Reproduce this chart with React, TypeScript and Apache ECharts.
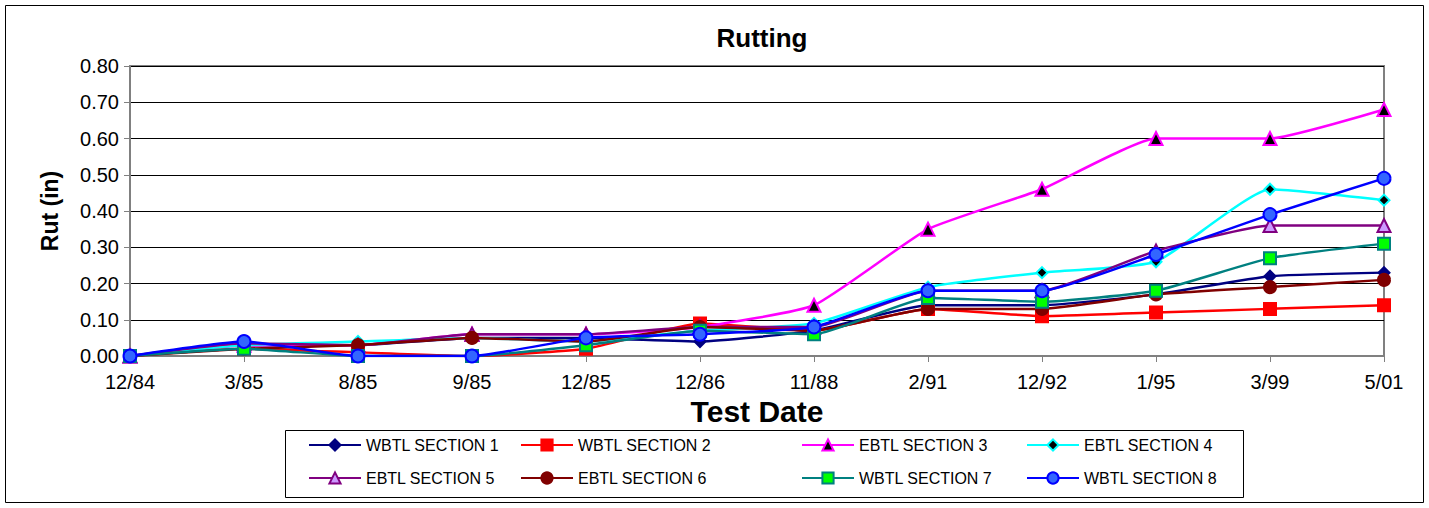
import React, { useEffect, useRef } from "react";
import * as echarts from "echarts";

const categories = ["12/84", "3/85", "8/85", "9/85", "12/85", "12/86", "11/88", "2/91", "12/92", "1/95", "3/99", "5/01"];
const yTicks = [0, 0.1, 0.2, 0.3, 0.4, 0.5, 0.6, 0.7, 0.8];

const wbtl1 = [0, 0.03, 0.03, 0.05, 0.05, 0.04, 0.07, 0.14, 0.14, 0.17, 0.22, 0.23];
const wbtl2 = [0, 0.02, 0.01, 0, 0.02, 0.09, 0.07, 0.13, 0.11, 0.12, 0.13, 0.14];
const ebtl3 = [0, 0.03, 0.03, 0.06, 0.06, 0.08, 0.14, 0.35, 0.46, 0.6, 0.6, 0.68];
const ebtl4 = [0, 0.03, 0.04, 0.05, 0.04, 0.07, 0.09, 0.19, 0.23, 0.26, 0.46, 0.43];
const ebtl5 = [0, 0.035, 0.03, 0.06, 0.06, 0.08, 0.08, 0.18, 0.18, 0.29, 0.36, 0.36];
const ebtl6 = [0, 0.02, 0.03, 0.05, 0.04, 0.08, 0.07, 0.13, 0.13, 0.17, 0.19, 0.21];
const wbtl7 = [0, 0.02, 0, 0, 0.03, 0.07, 0.06, 0.16, 0.15, 0.18, 0.27, 0.31];
const wbtl8 = [0, 0.04, 0, 0, 0.05, 0.06, 0.08, 0.18, 0.18, 0.28, 0.39, 0.49];

const seriesNames = [
  "WBTL SECTION 1", "WBTL SECTION 2", "EBTL SECTION 3", "EBTL SECTION 4",
  "EBTL SECTION 5", "EBTL SECTION 6", "WBTL SECTION 7", "WBTL SECTION 8",
];
const seriesData = [wbtl1, wbtl2, ebtl3, ebtl4, ebtl5, ebtl6, wbtl7, wbtl8];

const styles = [
  { line: "#000080", symbol: "diamond", fill: "#000080", border: "#000080", size: 11 },
  { line: "#FF0000", symbol: "rect", fill: "#FF0000", border: "#FF0000", size: 12 },
  { line: "#FF00FF", symbol: "triangle", fill: "#000000", border: "#FF00FF", size: 13 },
  { line: "#00FFFF", symbol: "diamond", fill: "#000000", border: "#00FFFF", size: 11 },
  { line: "#800080", symbol: "triangle", fill: "#CC99FF", border: "#800080", size: 13 },
  { line: "#800000", symbol: "circle", fill: "#800000", border: "#800000", size: 12 },
  { line: "#008080", symbol: "rect", fill: "#00FF00", border: "#008080", size: 12 },
  { line: "#0000FF", symbol: "circle", fill: "#3366FF", border: "#0000FF", size: 13 },
];

const FONT = "'Liberation Sans', Arial, sans-serif";

export default function App() {
  const ref = useRef<HTMLDivElement>(null);
  useEffect(() => {
    if (!ref.current) return;
    const chart = echarts.init(ref.current, undefined, { renderer: "svg" });
    const legendCols = [308, 520, 801, 1026];
    const legendRows = [437, 470];
    const legends = seriesNames.map((n, i) => ({
      data: [n],
      left: legendCols[i % 4],
      top: legendRows[Math.floor(i / 4)],
      padding: 0,
      itemWidth: 52,
      itemHeight: 14,
      textStyle: { fontFamily: FONT, fontSize: 16, color: "#000" },
      selectedMode: false,
    }));
    chart.setOption({
      animation: false,
      backgroundColor: "#fff",
      title: {
        text: "Rutting",
        left: 757,
        textAlign: "center",
        top: 20,
        textStyle: { fontFamily: FONT, fontSize: 26, fontWeight: "bold", color: "#000" },
      },
      legend: legends,
      graphic: [
        { type: "rect", shape: { x: 5.5, y: 5.5, width: 1418, height: 497 }, style: { fill: "none", stroke: "#000", lineWidth: 1 }, z: -1 },
        { type: "rect", shape: { x: 285.5, y: 430.5, width: 958, height: 67 }, style: { fill: "none", stroke: "#000", lineWidth: 1 }, z: -1 },
      ],
      grid: {
        left: 130, right: 45, top: 66, bottom: 152,
        show: true, borderColor: "#808080", borderWidth: 2, backgroundColor: "transparent",
      },
      xAxis: {
        type: "category",
        data: categories,
        boundaryGap: false,
        name: "Test Date",
        nameLocation: "middle",
        nameGap: 39,
        nameTextStyle: { fontFamily: FONT, fontSize: 30, fontWeight: "bold", color: "#000" },
        axisLine: { lineStyle: { color: "#808080", width: 2 } },
        axisTick: { show: true, length: 6, alignWithLabel: true, lineStyle: { color: "#808080", width: 1 } },
        axisLabel: { fontFamily: FONT, fontSize: 20, color: "#000", margin: 16 },
        splitLine: { show: false },
      },
      yAxis: {
        type: "value",
        min: yTicks[0],
        max: yTicks[yTicks.length - 1],
        interval: 0.1,
        name: "Rut (in)",
        nameLocation: "middle",
        nameGap: 69,
        nameRotate: 90,
        nameTextStyle: { fontFamily: FONT, fontSize: 23, fontWeight: "bold", color: "#000" },
        axisLine: { show: true, lineStyle: { color: "#808080", width: 2 } },
        axisTick: { show: true, length: 6, inside: false, lineStyle: { color: "#808080", width: 1 } },
        axisLabel: { fontFamily: FONT, fontSize: 20, color: "#000", margin: 11, formatter: (v: number) => v.toFixed(2) },
        splitLine: { show: true, lineStyle: { color: "#000", width: 1 } },
      },
      series: seriesData.map((d, i) => ({
        name: seriesNames[i],
        type: "line",
        data: d,
        smooth: 0.15,
        symbol: styles[i].symbol,
        symbolSize: styles[i].size,
        showAllSymbol: true,
        lineStyle: { color: styles[i].line, width: 2.5 },
        itemStyle: { color: styles[i].fill, borderColor: styles[i].border, borderWidth: 2 },
        emphasis: { disabled: true },
        z: 2 + i,
      })),
    });
    return () => chart.dispose();
  }, []);
  return <div ref={ref} style={{ position: "fixed", left: 0, top: 0, width: 1429, height: 508 }} />;
}
